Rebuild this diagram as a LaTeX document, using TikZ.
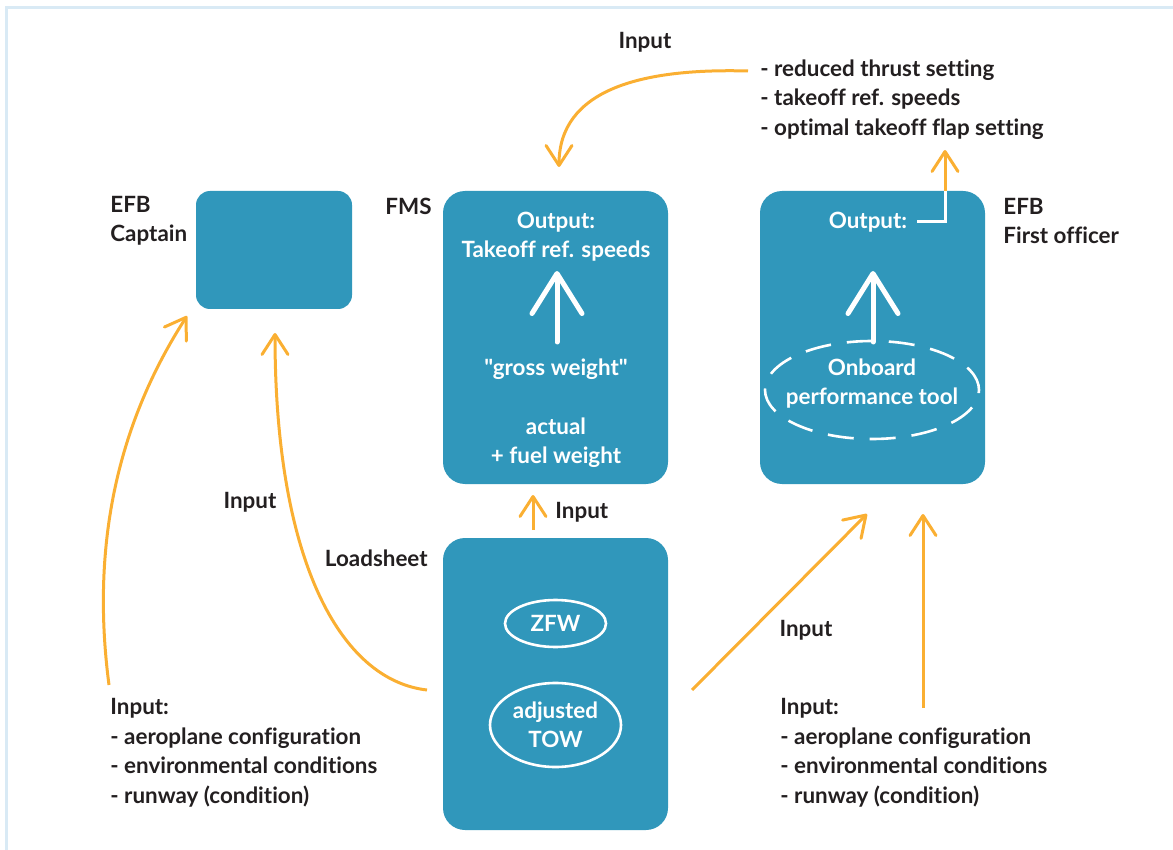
\documentclass[tikz,border=0pt]{standalone}
\usepackage{fontspec}
\setmainfont{Lato}[Ligatures={TeXOff,NoCommon}]
\usetikzlibrary{arrows.meta,shapes.geometric}
\definecolor{boxblue}{RGB}{48,151,187}
\definecolor{inorange}{RGB}{250,175,50}
\definecolor{framelin}{RGB}{217,234,245}
\definecolor{txtdark}{RGB}{35,31,32}
\newcommand\lblfont{\bfseries\fontsize{11.2}{14.75}\selectfont}
\tikzset{
  panel/.style={fill=boxblue,rounded corners=11pt,inner sep=0pt},
  lbl/.style={text=txtdark,font=\lblfont,align=left,inner sep=0pt},
  wlbl/.style={text=white,font=\lblfont,align=center,inner sep=0pt},
  flow/.style={draw=inorange,line width=1.5pt,-{Straight Barb[round,length=10pt,width=13pt]}},
  wflow/.style={draw=white,line width=2.5pt,line cap=round,-{Straight Barb[round,length=20pt,width=25pt]}},
  tag/.style={draw=white,line width=1.3pt,ellipse,inner sep=0pt,text=white,font=\lblfont,align=center},
}
\begin{document}
\begin{tikzpicture}[x=0.5pt,y=-0.5pt]
\useasboundingbox (0,0) rectangle (1173,850);
% frame, left and top only
\draw[framelin,line width=1.5pt] (6,850) -- (6,8) -- (1173,8);

% the four panels
\node[panel,rounded corners=7pt,minimum width=78pt,minimum height=59pt] (cap) at (274,250) {};
\node[panel,minimum width=112.5pt,minimum height=146.5pt] (fms) at (555.5,337.5) {};
\node[panel,minimum width=112.5pt,minimum height=146.5pt] (fo) at (872.5,337.5) {};
\node[panel,minimum width=112.5pt,minimum height=146pt] (ls) at (555.5,684) {};

\node[lbl,anchor=west] (capname) at (110,221) {EFB\\Captain};
\node[lbl,anchor=west] (fmsname) at (385,206) {FMS};
\node[lbl,anchor=west] (foname) at (1003,221) {EFB\\First officer};
\node[lbl,anchor=east] (lsname) at (428,558) {Loadsheet};

% FMS
\node[wlbl] (fmsout) at (556,236.5) {Output:\\Takeoff ref. speeds};
\node[wlbl] (gross) at (556,369) {"gross weight"};
\node[wlbl] (actual) at (556,442.5) {actual\\+ fuel weight};
\coordinate (fmsbase) at (557,342);
\coordinate (fmstip) at (557,271);
\draw[wflow] (fmsbase) -- (fmstip);

% EFB first officer
\node[wlbl] (foout) at (868,222) {Output:};
\node[tag,dashed,dash pattern=on 13pt off 8pt,minimum width=107pt,minimum height=49pt] (tool) at (872,390) {};
\node[wlbl] (toolname) at (872,383.5) {Onboard\\performance tool};
\coordinate (fobase) at (873,342);
\coordinate (fotip) at (873,271);
\draw[wflow] (fobase) -- (fotip);

% loadsheet
\node[tag,minimum width=50.5pt,minimum height=23.5pt] (zfw) at (555.5,623.5) {ZFW};
\node[tag,minimum width=65.5pt,minimum height=42pt] (tow) at (555.5,725) {adjusted\\TOW};

% texts outside
\node[lbl] (intop) at (645,42) {Input};
\node[lbl,anchor=west] (results) at (760,99.5) {- reduced thrust setting\\- takeoff ref. speeds\\- optimal takeoff flap setting};
\node[lbl,anchor=west] (capin) at (110,753) {Input:\\- aeroplane configuration\\- environmental conditions\\- runway (condition)};
\node[lbl,anchor=west] (foin) at (780,753) {Input:\\- aeroplane configuration\\- environmental conditions\\- runway (condition)};
\node[lbl] (inleft) at (250,502) {Input};
\node[lbl,anchor=west] (inmid) at (555,512) {Input};
\node[lbl] (inright) at (806,630) {Input};

% orange connectors
\coordinate (rtail) at (748,71);
\coordinate (rhead) at (559,167);
\draw[flow] (rtail) .. controls (640,68) and (559,90) .. (rhead);

\coordinate (foexit) at (945,191);
\coordinate (fohead) at (945,150);
\draw[white,line width=1.5pt] (917,222) -| (foexit);
\draw[flow] (foexit) -- (fohead);

\coordinate (c1tail) at (109,685);
\coordinate (c1head) at (187,316);
\draw[flow] (c1tail) .. controls (90,540) and (120,420) .. (c1head);

\coordinate (c2tail) at (427,690);
\coordinate (c2head) at (275,333);
\draw[flow] (c2tail) .. controls (340,680) and (275,560) .. (c2head);

\coordinate (midtail) at (533,530);
\coordinate (midhead) at (533,495);
\draw[flow] (midtail) -- (midhead);

\coordinate (dtail) at (692,690);
\coordinate (dhead) at (867,514);
\draw[flow] (dtail) -- (dhead);

\coordinate (vtail) at (923,708);
\coordinate (vhead) at (923,514);
\draw[flow] (vtail) -- (vhead);
\end{tikzpicture}
\end{document}
